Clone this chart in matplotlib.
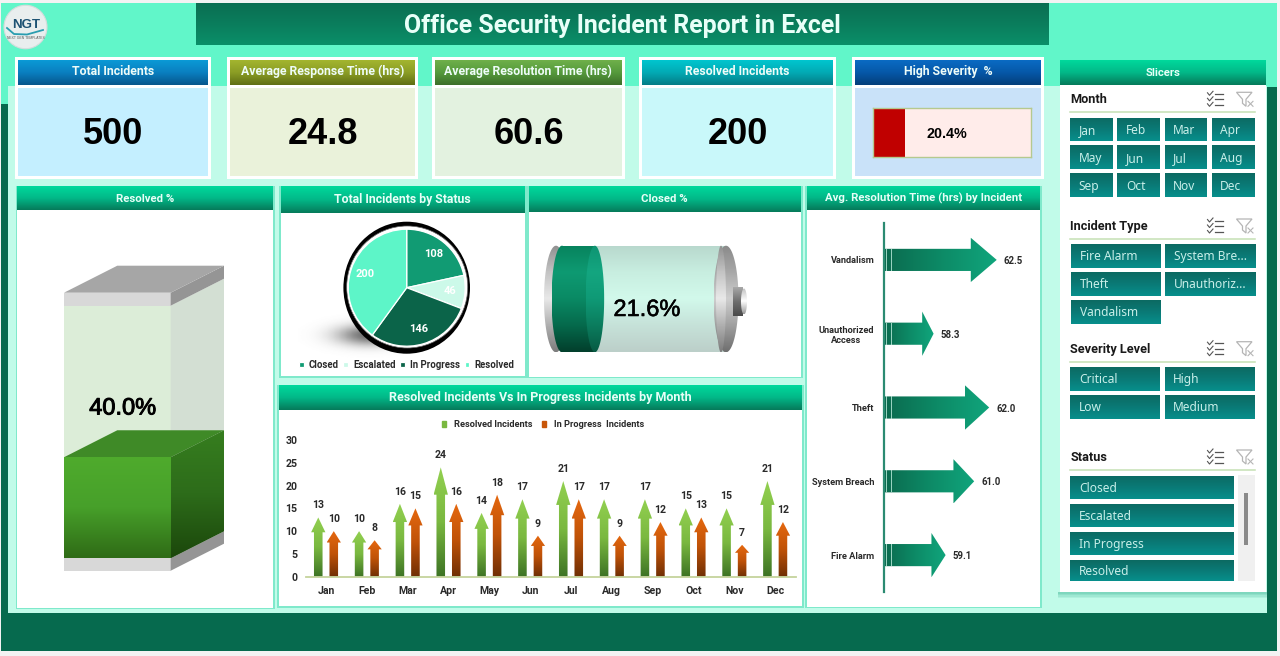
#! /usr/bin/python3

import numpy as np
import matplotlib
matplotlib.use("Agg")
import matplotlib.pyplot as plt
from matplotlib.colors import LinearSegmentedColormap
from matplotlib.patches import Rectangle, Polygon, Ellipse, Patch
import matplotlib.patheffects as pe

W, H = 1280, 656

# data
kpi_titles = ["Total Incidents", "Average Response Time (hrs)",
              "Average Resolution Time (hrs)", "Resolved Incidents"]
kpi_values = ["500", "24.8", "60.6", "200"]
high_severity_pct = 20.4
resolved_pct = 40.0
closed_pct = 21.6

status_names = ["Closed", "Escalated", "In Progress", "Resolved"]
status_counts = [108, 46, 146, 200]

months = ["Jan", "Feb", "Mar", "Apr", "May", "Jun", "Jul", "Aug", "Sep", "Oct", "Nov", "Dec"]
resolved_by_month = [13, 10, 16, 24, 14, 17, 21, 17, 17, 15, 15, 21]
progress_by_month = [10, 8, 15, 16, 18, 9, 17, 9, 12, 13, 7, 12]

incident_types = ["Fire Alarm", "System Breach", "Theft", "Unauthorized\nAccess", "Vandalism"]
avg_resolution = [59.1, 61.0, 62.0, 58.3, 62.5]

slicer_months = months
slicer_types = ["Fire Alarm", "System Bre...", "Theft", "Unauthoriz...", "Vandalism"]
slicer_severity = ["Critical", "High", "Low", "Medium"]
slicer_status = ["Closed", "Escalated", "In Progress", "Resolved"]

HEAD_FONT = "Roboto"
NUM_FONT = "Liberation Sans"
SLICER_FONT = "Noto Sans"

HEADER_STOPS = ["#00d99c", "#02b888", "#067a5a"]
BUTTON_STOPS = ["#0c6a62", "#0a7a76", "#078f8c"]
INK = "#2a2a2a"


def px_axes(x0, y0, x1, y1):
    ax = fig.add_axes([x0 / W, 1 - y1 / H, (x1 - x0) / W, (y1 - y0) / H])
    ax.patch.set_alpha(0)
    return ax


def grad_poly(ax, verts, stops, horiz=False, zorder=2):
    xs = [v[0] for v in verts]
    ys = [v[1] for v in verts]
    if ax.yaxis_inverted():
        top, bottom = min(ys), max(ys)
    else:
        top, bottom = max(ys), min(ys)
    g = np.linspace(0, 1, 128)
    g = g.reshape(1, -1) if horiz else g.reshape(-1, 1)
    cmap = LinearSegmentedColormap.from_list("g", stops)
    im = ax.imshow(g, cmap=cmap, extent=(min(xs), max(xs), bottom, top), origin="upper",
                   aspect="auto", vmin=0, vmax=1, zorder=zorder, interpolation="bilinear")
    clip = Polygon(verts, closed=True, transform=ax.transData, fc="none", ec="none")
    im.set_clip_path(clip)
    return im


def box(x0, y0, x1, y1, color, zorder=1, alpha=None, ec="none", lw=0):
    bg.add_patch(Rectangle((x0, y0), x1 - x0, y1 - y0, fc=color, ec=ec, lw=lw,
                           zorder=zorder, alpha=alpha))


def rect_pts(x0, y0, x1, y1):
    return [(x0, y0), (x1, y0), (x1, y1), (x0, y1)]


def grad_box(x0, y0, x1, y1, stops, zorder=2, horiz=False):
    grad_poly(bg, rect_pts(x0, y0, x1, y1), stops, horiz=horiz, zorder=zorder)


def panel(x0, y0, x1, y1, head_bottom, title, size=8.6, border=True):
    if border:
        box(x0 - 1.5, y0 - 0.5, x1 + 1.5, y1 + 1.5, "#7fe9cb", zorder=1.5)
    box(x0, y0, x1, y1, "white", zorder=1.6)
    grad_box(x0, y0, x1, head_bottom, HEADER_STOPS, zorder=2)
    bg.text((x0 + x1) / 2, (y0 + head_bottom) / 2 + 0.5, title, color="#e6fff7", fontsize=size,
            fontweight="bold", family=HEAD_FONT, ha="center", va="center", zorder=5)


def kpi_card(x0, x1, title, head_stops, body, value=None):
    box(x0, 57, x1, 178.5, "white", zorder=1.5)
    grad_box(x0 + 3, 60, x1 - 3, 85, head_stops, zorder=2)
    box(x0 + 3, 88, x1 - 3, 175.5, body, zorder=2)
    bg.text((x0 + x1) / 2, 71.5, title, color="#eefcf8", fontsize=8.8, fontweight="bold",
            family=HEAD_FONT, ha="center", va="center", zorder=5)
    if value is not None:
        bg.text((x0 + x1) / 2 + 0.5, 134, value, color="black", fontsize=26, fontweight="bold",
                family=NUM_FONT, ha="center", va="center", zorder=5)


def ellipse_pts(cx, cy, rx, ry, a0=0, a1=360):
    t = np.radians(np.linspace(a0, a1, 80))
    return list(zip(cx + rx * np.cos(t), cy + ry * np.sin(t)))


def slicer_head(title, y_text, y_line):
    bg.text(1070.5, y_text + 0.5, title, color="#1a1a1a", fontsize=9.2, fontweight="bold",
            family=HEAD_FONT, ha="left", va="center", zorder=6)
    bg.plot([1070, 1255], [y_line, y_line], color="#c5e0b4", lw=1.1, zorder=6)
    # multi select icon
    for dy in (-5.5, 0, 5.5):
        yc = y_text + dy
        bg.plot([1207.5, 1209.5, 1213], [yc - 1, yc + 1.5, yc - 2.5], color="#555555", lw=0.8, zorder=6)
        bg.plot([1215, 1222.5], [yc, yc], color="#555555", lw=0.9, zorder=6)
    # clear filter icon
    funnel = [(1236.5, y_text - 7), (1252, y_text - 7), (1246, y_text), (1246, y_text + 7),
              (1242.5, y_text + 4), (1242.5, y_text)]
    bg.add_patch(Polygon(funnel, closed=True, fc="none", ec="#b5b5b5", lw=0.9, zorder=6))
    bg.plot([1248, 1253], [y_text + 2, y_text + 7], color="#b5b5b5", lw=0.8, zorder=6)
    bg.plot([1253, 1248], [y_text + 2, y_text + 7], color="#b5b5b5", lw=0.8, zorder=6)


def slicer_button(x0, y0, x1, y1, label):
    grad_box(x0, y0, x1, y1, BUTTON_STOPS, zorder=6)
    bg.text(x0 + 8.5, (y0 + y1) / 2 + 1, label, color="#c8efe9", fontsize=8.6, family=SLICER_FONT,
            ha="left", va="center", zorder=7)


fig = plt.figure(figsize=(W / 100, H / 100), dpi=100, facecolor="#f3f3f3")

# background layer works in image pixels
bg = fig.add_axes([0, 0, 1, 1])
bg.set_xlim(0, W)
bg.set_ylim(H, 0)
bg.axis("off")

box(1, 3, 1277, 651, "#066a4e", zorder=0.1)
box(1, 3, 1277, 86.5, "#61f6c9", zorder=0.2)
box(1, 86, 8, 104, "#61f6c9", zorder=0.2)
box(8, 86, 1267, 613, "#c1fbe9", zorder=0.3)

# title bar
grad_box(196, 3, 1049, 45.5, ["#0a6e52", "#0b7d5c", "#0a8f69"], zorder=1)
bg.text(622.5, 26, "Office Security Incident Report in Excel", color="#e8fff8", fontsize=17.9,
        fontweight="bold", family=HEAD_FONT, ha="center", va="center", zorder=3)

# logo
bg.add_patch(Ellipse((25.5, 27), 43, 43.5, fc="#e9eeee", ec="#d5dcdc", lw=0.8, zorder=2))
bg.text(26, 25, "NGT", color="#1d5273", fontsize=9.5, fontweight="bold", family=NUM_FONT,
        ha="center", va="center", zorder=3)
bg.plot([7, 14, 27, 43], [28, 34, 34.5, 30], color="#2a9db0", lw=1.3, zorder=3)
bg.text(25.5, 38, "NEXT GEN TEMPLATES", color="#555555", fontsize=2.4, family=NUM_FONT,
        ha="center", va="center", zorder=3)

# kpi cards
kpi_head = [["#0b9ad6", "#0a7fc0", "#06568c"], ["#a3b52f", "#8b9d25", "#5f6f14"],
            ["#6fb04a", "#559a3c", "#3d6f2a"], ["#00c6cf", "#02aab4", "#047c86"]]
kpi_body = ["#c4efff", "#eaf2da", "#e3f2e0", "#c9f8fa"]
kpi_x = [(15, 211), (226.5, 418), (432, 624.5), (638.5, 836)]
for (x0, x1), t, v, hs, b in zip(kpi_x, kpi_titles, kpi_values, kpi_head, kpi_body):
    kpi_card(x0, x1, t, hs, b, v)

kpi_card(852, 1044, "High Severity  %", ["#0a6bc4", "#0658a8", "#043f7a"], "#c9e2f9")
sev_ax = px_axes(872.7, 108, 1030.7, 157)
sev_ax.barh([0], [100], height=1, color="#ffecea", zorder=1)
sev_ax.barh([0], [high_severity_pct], height=1, color="#c00000", zorder=2)
sev_ax.set_xlim(0, 100)
sev_ax.set_ylim(-0.5, 0.5)
sev_ax.set_xticks([])
sev_ax.set_yticks([])
for s in sev_ax.spines.values():
    s.set_color("#b5c98f")
    s.set_linewidth(1)
sev_ax.text(47, -0.03, f"{high_severity_pct:.1f}%", fontsize=10.3, fontweight="bold", family=NUM_FONT,
            ha="center", va="center", zorder=3)

# panels
panel(17, 186, 273, 607.5, 210, "Resolved %", size=8.2)
panel(280.5, 186, 525, 376, 213, "Total Incidents by Status", size=8.8)
panel(528.5, 186, 801, 376.5, 212, "Closed %", size=8.2)
panel(278.5, 385, 802, 606, 410, "Resolved Incidents Vs In Progress Incidents by Month", size=9)
panel(806.5, 186, 1040, 606.5, 210.5, "Avg. Resolution Time (hrs) by Incident", size=8.2)

# slicer panel with soft shadow
for i, a in enumerate((0.12, 0.12, 0.14, 0.16)):
    box(1059 - 1, 592, 1266 + 1, 598 - i * 1.5, "#2fae8c", zorder=1.2, alpha=a)
panel(1059.5, 60, 1266, 591.5, 85, "Slicers", size=8.2, border=False)

# cube gauge for resolved %
fx0, fx1 = 64, 170.7
dx, dy = 53.3, 27
cap_top, liq_top = 292.7, 305.7
liq_bot, cap_bot = 558.3, 570.7
level = liq_bot - (liq_bot - liq_top) * resolved_pct / 100

bg.add_patch(Polygon(rect_pts(fx0, liq_top, fx1, liq_bot), fc="#dcedd8", zorder=3))
bg.add_patch(Polygon([(fx1, liq_top), (fx1 + dx, liq_top - dy), (fx1 + dx, liq_bot - dy), (fx1, liq_bot)],
                     fc="#d3dfd3", zorder=3))
bg.add_patch(Polygon(rect_pts(fx0, cap_top, fx1, liq_top), fc="#d8d8d8", zorder=3))
bg.add_patch(Polygon([(fx1, cap_top), (fx1 + dx, cap_top - dy), (fx1 + dx, liq_top - dy), (fx1, liq_top)],
                     fc="#959595", zorder=3))
bg.add_patch(Polygon([(fx0, cap_top), (fx0 + dx, cap_top - dy), (fx1 + dx, cap_top - dy), (fx1, cap_top)],
                     fc="#a6a6a6", zorder=3))
bg.add_patch(Polygon(rect_pts(fx0, liq_bot, fx1, cap_bot), fc="#d8d8d8", zorder=3))
bg.add_patch(Polygon([(fx1, liq_bot), (fx1 + dx, liq_bot - dy), (fx1 + dx, cap_bot - dy), (fx1, cap_bot)],
                     fc="#959595", zorder=3))
bg.add_patch(Polygon([(fx0, level), (fx0 + dx, level - dy), (fx1 + dx, level - dy), (fx1, level)],
                     fc="#3f8a27", zorder=3.2))
grad_box(fx0, level, fx1, liq_bot, ["#4fab2d", "#47a02a", "#2f6b16"], zorder=3.2)
grad_poly(bg, [(fx1, level), (fx1 + dx, level - dy), (fx1 + dx, liq_bot - dy), (fx1, liq_bot)],
          ["#367e1f", "#2d6c1a", "#1b470b"], zorder=3.2)
bg.text(122.7, 408.5, f"{resolved_pct:.1f}%", fontsize=17, family=NUM_FONT, ha="center", va="center", zorder=4,
        path_effects=[pe.withStroke(linewidth=0.7, foreground="black")])

# battery gauge for closed %
by0, by1 = 245.7, 352.3
bcy = (by0 + by1) / 2
bry = (by1 - by0) / 2
body_left, body_right = 559, 725
fill_x = body_left + (body_right - body_left) * closed_pct / 100

light_stops = ["#b8d8cd", "#c8eee0", "#d2f9eb", "#c6e2d9", "#bccfc9"]
grey_stops = ["#8f8f8f", "#c4c4c4", "#e9e9e9", "#b0b0b0", "#7d7d7d"]
cap_stops = ["#8a8a8a", "#a8a8a8", "#cfcfcf", "#a0a0a0", "#6f6f6f"]
green_stops = ["#07835d", "#0e9a72", "#0a8a64", "#056a4c", "#023f2c"]

grad_poly(bg, ellipse_pts(556, bcy, 12, bry), grey_stops, zorder=3)
grad_poly(bg, rect_pts(fill_x, by0, body_right, by1), light_stops, zorder=3.1)
grad_poly(bg, ellipse_pts(562, bcy, 10.5, bry), green_stops, zorder=3.2)
grad_poly(bg, rect_pts(562, by0, fill_x, by1), green_stops, zorder=3.2)
grad_poly(bg, ellipse_pts(fill_x, bcy, 9.3, bry), ["#0e9472", "#14a680", "#0f9a76", "#0b7d5e", "#075a43"], zorder=3.3)
grad_poly(bg, ellipse_pts(726, bcy, 12.5, bry), cap_stops, zorder=3.4)
grad_poly(bg, ellipse_pts(721, bcy, 5, bry), grey_stops, zorder=3.45)
grad_poly(bg, rect_pts(733, 287, 743, 316), ["#a8a8a8", "#6e6e6e", "#4a4a4a"], zorder=3.5)
grad_poly(bg, ellipse_pts(744, 301.5, 3, 13), ["#c0c0c0", "#ffffff", "#9a9a9a"], zorder=3.6)
bg.text(647, 310, f"{closed_pct:.1f}%", fontsize=17, family=NUM_FONT, ha="center", va="center", zorder=5,
        path_effects=[pe.withStroke(linewidth=0.4, foreground="black")])

# pie with ring and drop shadow
gx = np.linspace(-1, 1, 120)
gy = np.linspace(-1, 1, 60)
shadow = np.exp(-((gx[None, :] ** 2) + (gy[:, None] ** 2)) * 5)
shadow_cmap = LinearSegmentedColormap.from_list("s", [(0.42, 0.42, 0.42, 0), (0.42, 0.42, 0.42, 1)])
bg.imshow(shadow, cmap=shadow_cmap, extent=(298, 442, 358, 312), aspect="auto", zorder=2.5, vmin=0, vmax=1)
bg.set_xlim(0, W)
bg.set_ylim(H, 0)
bg.add_patch(Ellipse((406.7, 287.7), 126.6, 132, fc="black", zorder=3))
bg.add_patch(Ellipse((407.2, 287.0), 121, 122, fc="white", ec="#666666", lw=0.5, zorder=3.1))

pie_ax = px_axes(406.7 - 73.1, 287.7 - 73.1, 406.7 + 73.1, 287.7 + 73.1)
status_colors = ["#119b73", "#ccf9e9", "#0b6449", "#5df5c8"]
wedges, _, pct_texts = pie_ax.pie(status_counts, colors=status_colors, startangle=90, counterclock=False,
                                  radius=1, wedgeprops={"edgecolor": "white", "linewidth": 0.9},
                                  autopct=lambda p: f"{p * sum(status_counts) / 100:.0f}", pctdistance=0.74)
for t in pct_texts:
    t.set(color="white", fontsize=8, fontweight="bold", family=HEAD_FONT)
pie_ax.set_xlim(-1.25, 1.25)
pie_ax.set_ylim(-1.25, 1.25)
pie_leg = fig.legend(wedges, status_names, loc="center", bbox_to_anchor=(406.5 / W, 1 - 365 / H), ncol=4,
                     frameon=False, handlelength=0.5, handleheight=0.5, handletextpad=0.5,
                     columnspacing=0.5, prop={"family": HEAD_FONT, "weight": "bold", "size": 6.9})
for t in pie_leg.get_texts():
    t.set_color(INK)

# monthly arrows
month_ax = px_axes(305.6, 440, 795.6, 576.7)
month_ax.set_xlim(-0.5, 11.5)
month_ax.set_ylim(0, 30)
month_ax.set_xticks(range(len(months)))
month_ax.set_xticklabels(months, family=HEAD_FONT, fontsize=7.6, fontweight="bold", color=INK)
month_ax.set_yticks(range(0, 31, 5))
month_ax.set_yticklabels(range(0, 31, 5), family=HEAD_FONT, fontsize=7.6, fontweight="bold", color=INK)
month_ax.tick_params(length=0, pad=6)
month_ax.tick_params(axis="x", pad=7)
for name, s in month_ax.spines.items():
    s.set_visible(name == "bottom")
month_ax.spines["bottom"].set_color("#c5d39c")
month_ax.spines["bottom"].set_linewidth(1.3)


def vert_arrows(ax, xs, vals, stops):
    for x, v in zip(xs, vals):
        neck = v * 0.75
        verts = [(x - 0.105, 0), (x + 0.105, 0), (x + 0.105, neck), (x + 0.175, neck), (x, v),
                 (x - 0.175, neck), (x - 0.105, neck)]
        grad_poly(ax, verts, stops, zorder=2)
        ax.annotate(str(v), (x, v), xytext=(0, 12), textcoords="offset pixels", ha="center", va="center",
                    family=HEAD_FONT, fontsize=7.6, fontweight="bold", color=INK)


pos = np.arange(len(months))
vert_arrows(month_ax, pos - 0.19, resolved_by_month, ["#92d050", "#7ab840", "#3d7324"])
vert_arrows(month_ax, pos + 0.19, progress_by_month, ["#e5680f", "#bf5208", "#6f2f05"])
month_ax.set_xlim(-0.5, 11.5)
month_ax.set_ylim(0, 30)
month_handles = [Patch(color="#7ab840", label="Resolved Incidents"), Patch(color="#c8560a", label="In Progress  Incidents")]
month_leg = month_ax.legend(handles=month_handles, loc="center", bbox_to_anchor=(0.4845, 1.11), ncol=2, frameon=False,
                            handlelength=0.45, handleheight=0.7, handletextpad=0.8, columnspacing=1.1,
                            prop={"family": HEAD_FONT, "weight": "bold", "size": 6.7})
for t in month_leg.get_texts():
    t.set_color(INK)

# horizontal arrows
res_ax = px_axes(884, 223, 1034.3, 592)
res_ax.set_xlim(55, 65)
res_ax.set_ylim(-0.5, 4.5)
res_ax.set_yticks(range(len(incident_types)))
res_ax.set_yticklabels(incident_types, family=HEAD_FONT, fontsize=6.7, fontweight="bold", color=INK,
                       multialignment="center")
res_ax.set_xticks([])
res_ax.tick_params(length=0, pad=7)
for name, s in res_ax.spines.items():
    s.set_visible(name == "left")
res_ax.spines["left"].set_color("#2b8b72")
res_ax.spines["left"].set_linewidth(1.6)
for i, v in enumerate(avg_resolution):
    neck = v - (v - 55) * 0.23
    verts = [(55, i - 0.15), (neck, i - 0.15), (neck, i - 0.3), (v, i), (neck, i + 0.3), (neck, i + 0.15), (55, i + 0.15)]
    grad_poly(res_ax, verts, ["#0b6a4e", "#0d8a66", "#10a57c"], horiz=True, zorder=2)
    for a, b in ((55.13, 55.22), (55.45, 55.56)):
        res_ax.add_patch(Rectangle((a, i - 0.15), b - a, 0.3, fc="#c8f5e6", ec="none", alpha=0.75, zorder=3))
    res_ax.annotate(f"{v:.1f}", (v, i), xytext=(7, -1), textcoords="offset pixels", ha="left", va="center",
                    family=HEAD_FONT, fontsize=6.9, fontweight="bold", color=INK)
res_ax.set_xlim(55, 65)
res_ax.set_ylim(-0.5, 4.5)

# slicers
slicer_head("Month", 99.3, 112.3)
mx = [(1070.3, 1113.3), (1117.3, 1160.3), (1164.7, 1207.3), (1211.7, 1254.7)]
my = [(117.7, 141), (145.3, 169), (173.3, 197)]
for i, m in enumerate(slicer_months):
    x0, x1 = mx[i % 4]
    y0, y1 = my[i // 4]
    slicer_button(x0, y0, x1, y1, m)

slicer_head("Incident Type", 226, 239)
tx = [(1071, 1161), (1165, 1255.7)]
ty = [(243.7, 267.7), (271.7, 295.7), (299.7, 323.7)]
for i, t in enumerate(slicer_types):
    x0, x1 = tx[i % 2]
    y0, y1 = ty[i // 2]
    slicer_button(x0, y0, x1, y1, t)

slicer_head("Severity Level", 348.7, 361.7)
sx = [(1070.3, 1160.3), (1164.7, 1254.7)]
sy = [(366.7, 390.7), (394.7, 418.7)]
for i, t in enumerate(slicer_severity):
    x0, x1 = sx[i % 2]
    y0, y1 = sy[i // 2]
    slicer_button(x0, y0, x1, y1, t)

slicer_head("Status", 457, 470)
st_y = [(475.7, 499.3), (503.7, 527.3), (531.7, 555.3), (559.7, 580.7)]
for t, (y0, y1) in zip(slicer_status, st_y):
    slicer_button(1070.3, y0, 1234, y1, t)
box(1238.3, 475, 1255, 581, "#f0f0f0", zorder=6)
box(1244.3, 492.7, 1248, 545, "#8a8a8a", zorder=6.5)

bg.set_xlim(0, W)
bg.set_ylim(H, 0)

fig.savefig("out.png", dpi=100)
